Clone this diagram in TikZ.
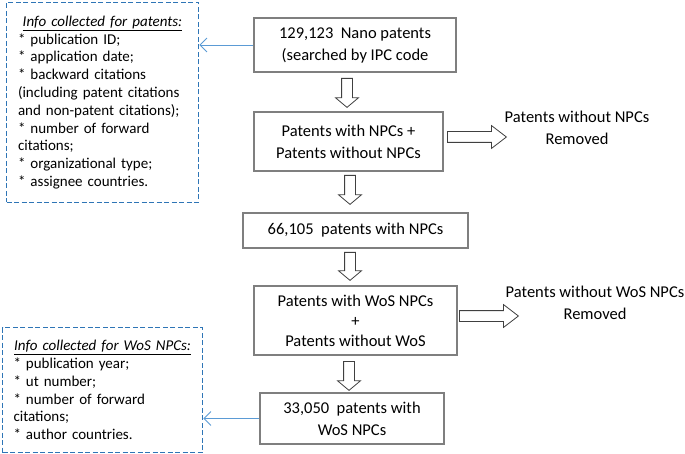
\documentclass[tikz,border=0pt]{standalone}
\usepackage{fontspec}
\setmainfont{Carlito}
\usetikzlibrary{shapes,arrows,arrows.meta}
\definecolor{bgray}{HTML}{7f7f7f}
\definecolor{bblue}{HTML}{2e75b6}
\definecolor{lblue}{HTML}{5b9bd5}
\definecolor{bdark}{HTML}{404040}
\tikzstyle{block} = [rectangle, draw=bgray, line width=2.5pt, align=center, font=\fontsize{16.5}{22}\selectfont]
\tikzstyle{infobox} = [rectangle, draw=bblue, line width=1.8pt, dash pattern=on 5pt off 2.5pt, align=left, inner sep=0pt, font=\fontsize{15}{17.8}\selectfont]
\tikzstyle{note} = [align=center, font=\fontsize{16.5}{22}\selectfont]
\tikzstyle{hollow} = [single arrow, draw=bdark, fill=white, line width=0.8pt, inner sep=5pt, single arrow head extend=6pt, anchor=tail]
\tikzstyle{link} = [draw, lblue, line width=0.8pt, -{Straight Barb[length=7pt, width=14pt]}]

\begin{document}
\begin{tikzpicture}[x=1pt, y=-1pt]
\useasboundingbox (0, 0) rectangle (685, 454);

%% main chain
\node[block, minimum width=202, minimum height=54] at (355, 45) (nano) {129,123\ \ Nano patents\\(searched by IPC code};
\node[block, minimum width=189, minimum height=59] at (348.5, 141.5) (npcs) {Patents with NPCs +\\Patents without NPCs};
\node[block, minimum width=225, minimum height=35] at (355.5, 230.5) (withnpc) {66,105\ \ patents with NPCs};
\node[block, minimum width=203, minimum height=69, font=\fontsize{16.5}{20}\selectfont] at (355.5, 320.5) (wos) {Patents with WoS NPCs\\+\\Patents without WoS};
\node[block, minimum width=184, minimum height=51] at (352, 418.5) (final) {33,050\ \ patents with\\WoS NPCs};

%% hollow arrows down
\node[hollow, rotate=-90, minimum height=29, single arrow tip angle=100] at (347, 78) (d1) {};
\node[hollow, rotate=-90, minimum height=29, single arrow tip angle=100] at (350, 175) (d2) {};
\node[hollow, rotate=-90, minimum height=28, single arrow tip angle=100] at (350, 252) (d3) {};
\node[hollow, rotate=-90, minimum height=29, single arrow tip angle=100] at (349, 361) (d4) {};

%% removed
\node[hollow, minimum height=59, single arrow tip angle=75] at (447, 137) (r1) {};
\node[note] at (577, 128) (removed1) {Patents without NPCs\\Removed};
\node[hollow, minimum height=59, single arrow tip angle=75] at (459, 316) (r2) {};
\node[note] at (595, 303) (removed2) {Patents without WoS NPCs\\Removed};

%% info boxes
\node[infobox, minimum width=192, minimum height=200, text width=169] at (102.5, 102.5) (pinfo) {
\makebox[\linewidth]{\underline{\textit{Info collected for patents:}}}\\
{*} publication ID;\\
{*} application date;\\
{*} backward citations\\
(including patent citations\\
and non-patent citations);\\
{*} number of forward\\
citations;\\
{*} organizational type;\\
{*} assignee countries.};
\path[link] (nano.west) -- (nano.west -| pinfo.east);

\node[infobox, minimum width=200, minimum height=125, text width=178] at (102.5, 390) (winfo) {
\makebox[\linewidth]{\underline{\textit{Info collected for WoS NPCs:}}}\\
{*} publication year;\\
{*} ut number;\\
{*} number of forward\\
citations;\\
{*} author countries.};
\path[link] (final.west) -- (final.west -| winfo.east);

\end{tikzpicture}
\end{document}
